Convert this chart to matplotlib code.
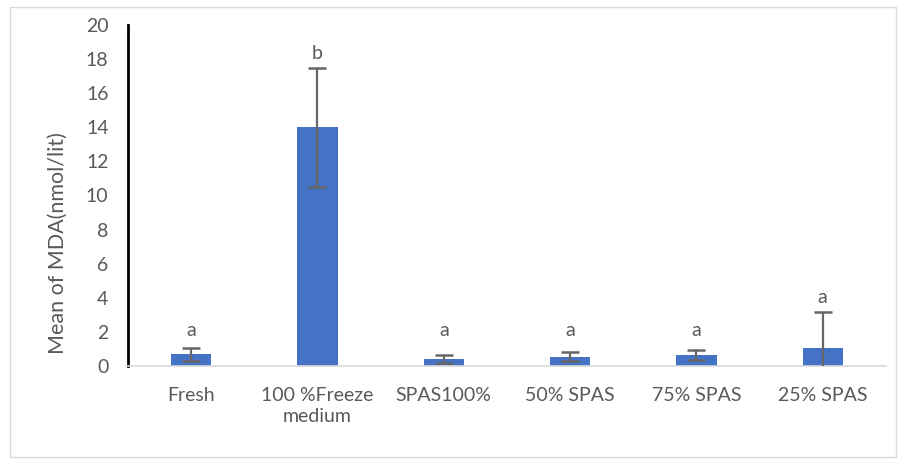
import matplotlib.pyplot as plt
from matplotlib.patches import Rectangle

plt.rcParams['font.family'] = ['Lato', 'DejaVu Sans']

groups = ['Fresh', '100 %Freeze\nmedium', 'SPAS100%', '50% SPAS', '75% SPAS', '25% SPAS']
mda = [0.69, 14.0, 0.40, 0.55, 0.63, 1.04]
sd = [0.38, 3.5, 0.25, 0.25, 0.30, 2.1]
letters = ['a', 'b', 'a', 'a', 'a', 'a']

grey = '#595959'

fig = plt.figure(figsize=(8.98, 4.61), dpi=100)
fig.patches.append(Rectangle((10 / 898, 4 / 461), 886 / 898, 450 / 461, transform=fig.transFigure,
                             fill=False, edgecolor='#d9d9d9', linewidth=1))
ax = fig.add_axes([0.1425, 0.206, 0.844, 0.74])

x = range(len(groups))
ax.bar(x, mda, width=0.32, color='#4472C4', zorder=2)
ax.errorbar(x, mda, yerr=sd, fmt='none', ecolor='#666666', elinewidth=1.6, capsize=6.5, capthick=1.8, zorder=3)

# significance letters
for i in x:
    y = max(mda[i] + sd[i] + 0.85, 2.1)
    ax.text(i, y, letters[i], ha='center', va='center', fontsize=14, color=grey)

ax.set_xlim(-0.5, len(groups) - 0.5)
ax.set_ylim(0, 20)
ax.set_yticks(range(0, 21, 2))
ax.set_xticks(list(x))
ax.set_xticklabels(groups, fontsize=14, color=grey, linespacing=1.3)
ax.tick_params(axis='y', labelsize=14, colors=grey, length=0, pad=14)
ax.tick_params(axis='x', length=0, pad=15)

for s in ['top', 'right']:
    ax.spines[s].set_visible(False)
ax.spines['left'].set_color('black')
ax.spines['left'].set_linewidth(2)
ax.spines['bottom'].set_color('#d9d9d9')
ax.spines['bottom'].set_linewidth(1.2)

ax.set_ylabel('Mean of MDA(nmol/lit)', fontsize=15.5, color=grey)
ax.yaxis.set_label_coords(-0.079, 0.36)

fig.savefig('out.png', dpi=100)
